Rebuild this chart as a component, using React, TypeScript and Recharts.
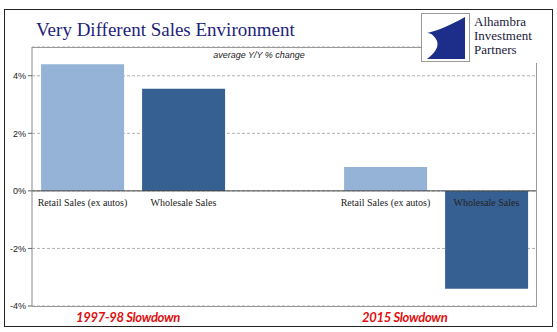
import React from 'react';
import { BarChart, Bar, XAxis, YAxis, CartesianGrid, ReferenceLine, ReferenceDot, Cell } from 'recharts';

const categoryKeys = ['retail97', 'wholesale97', 'gap', 'retail15', 'wholesale15'];
const categoryLabels = ['Retail Sales (ex autos)', 'Wholesale Sales', '', 'Retail Sales (ex autos)', 'Wholesale Sales'];
const changeValues = [4.4, 3.55, null, 0.83, -3.4];
const yTicks = [-4, -2, 0, 2, 4];
const periodLabels = ['1997-98 Slowdown', '2015 Slowdown'];

const LIGHT = '#95b3d7';
const DARK = '#376092';
const barColors = [LIGHT, DARK, LIGHT, LIGHT, DARK];

const data = categoryKeys.map((key, i) => ({ key, value: changeValues[i] }));

const redLabel: React.CSSProperties = {
    position: 'absolute',
    top: 309,
    fontFamily: 'Lato, sans-serif',
    fontStyle: 'italic',
    fontWeight: 700,
    fontSize: 13,
    letterSpacing: -0.3,
    color: '#e01010',
    whiteSpace: 'nowrap',
};

const Logo = () => (
    <div style={{ position: 'absolute', left: 421, top: 13, width: 125, height: 50, background: '#fff' }}>
        <svg width={50} height={50} style={{ position: 'absolute', left: 0, top: 0 }}>
            <rect x={0.5} y={0.5} width={48} height={48} fill="#fff" stroke="#999" />
            <path d="M44 4 L44 46 L6 46 C 14 40, 18 34, 16 28 C 12 20, 8 20, 6 20 C 16 18, 30 12, 44 4 Z" fill="#1c2e8a" />
        </svg>
        <div style={{ position: 'absolute', left: 53, top: 2, fontFamily: '"Liberation Serif", serif', fontSize: 13, lineHeight: '14px', color: '#1a1a3a', whiteSpace: 'nowrap' }}>
            <div>Alhambra</div>
            <div>Investment</div>
            <div>Partners</div>
        </div>
    </div>
);

const App = () => {
    return (
        <div style={{ position: 'absolute', left: 0, top: 0, width: 557, height: 332, background: '#fff', fontFamily: '"Liberation Sans", sans-serif' }}>
            <div style={{ position: 'absolute', left: 4, top: 9, width: 547, height: 316, border: '1px solid #222' }} />
            <div style={{ position: 'absolute', left: 36, top: 19, fontFamily: '"Liberation Serif", serif', fontSize: 19, color: '#1f1f7a', whiteSpace: 'nowrap' }}>
                Very Different Sales Environment
            </div>
            <BarChart width={557} height={332} data={data} margin={{ top: 47, right: 20, bottom: 26, left: 0 }} barCategoryGap="9%">
                <CartesianGrid vertical={false} strokeDasharray="3 2" stroke="#b0b0b0" />
                <XAxis dataKey="key" hide />
                <YAxis
                    domain={[-4, 5]}
                    ticks={yTicks}
                    width={32}
                    tickSize={4}
                    tickLine={{ stroke: '#666' }}
                    axisLine={{ stroke: '#888' }}
                    tickFormatter={(v: number) => `${v}%`}
                    tick={{ fontSize: 9, fill: '#222', fontFamily: '"Liberation Sans", sans-serif' }}
                />
                <Bar dataKey="value" isAnimationActive={false}>
                    {data.map((d, i) => (
                        <Cell key={d.key} fill={barColors[i]} />
                    ))}
                </Bar>
                <ReferenceLine y={0} stroke="#444" />
                {categoryKeys.map((key, i) =>
                    categoryLabels[i] ? (
                        <ReferenceDot
                            key={key}
                            x={key}
                            y={0}
                            r={0}
                            stroke="none"
                            label={{ value: categoryLabels[i], position: 'bottom', offset: 8, fontSize: 10, fill: '#222', fontFamily: '"Liberation Serif", serif' }}
                        />
                    ) : null
                )}
            </BarChart>
            <div style={{ position: 'absolute', left: 32, top: 47, width: 504, height: 258, border: '1px solid #999', borderLeft: 'none', pointerEvents: 'none' }} />
            <div style={{ position: 'absolute', left: 0, width: 518, top: 50, textAlign: 'center', fontSize: 9, fontStyle: 'italic', color: '#222' }}>
                average Y/Y % change
            </div>
            <Logo />
            <div style={{ ...redLabel, left: 76 }}>{periodLabels[0]}</div>
            <div style={{ ...redLabel, left: 362 }}>{periodLabels[1]}</div>
        </div>
    );
};

export default App;
